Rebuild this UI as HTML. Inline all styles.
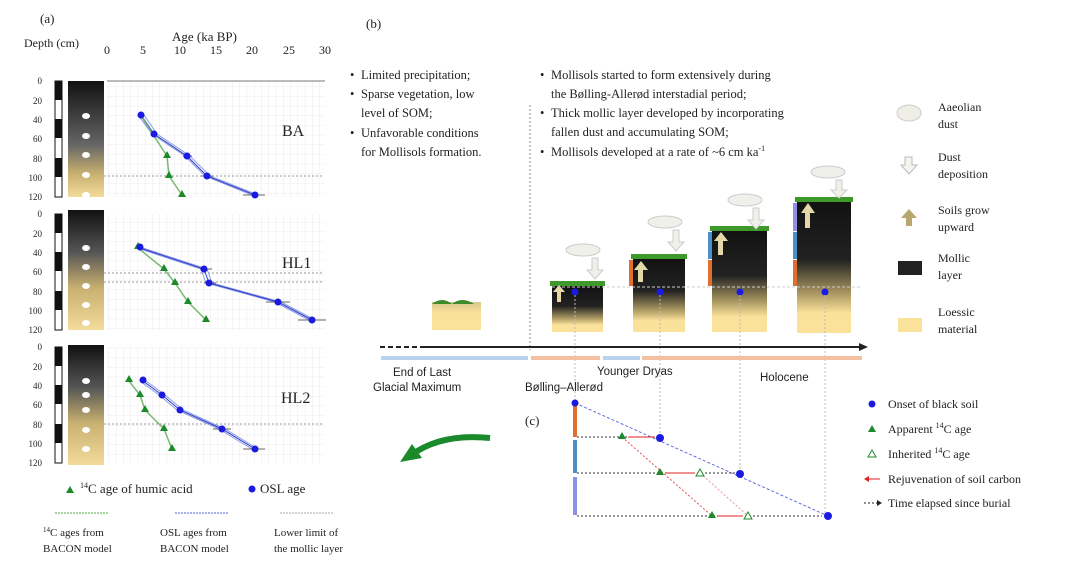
<!DOCTYPE html>
<html><head><meta charset="utf-8"><style>
html,body{margin:0;padding:0;background:#fff}
svg{display:block}
text{font-family:"Liberation Serif",serif;fill:#222}
.s{font-family:"Liberation Sans",sans-serif}
</style></head><body>
<svg width="1080" height="571" viewBox="0 0 1080 571" xmlns="http://www.w3.org/2000/svg">
<defs>
<linearGradient id="col" x1="0" y1="0" x2="0" y2="1">
<stop offset="0" stop-color="#111"/><stop offset="0.55" stop-color="#666"/><stop offset="0.8" stop-color="#c8b070"/><stop offset="1" stop-color="#f3dc9a"/></linearGradient>
<linearGradient id="colb" x1="0" y1="0" x2="0" y2="1">
<stop offset="0" stop-color="#111"/><stop offset="0.35" stop-color="#555"/><stop offset="0.65" stop-color="#c8b070"/><stop offset="1" stop-color="#f3dc9a"/></linearGradient>
<linearGradient id="blk" x1="0" y1="0" x2="0" y2="1">
<stop offset="0" stop-color="#111"/><stop offset="0.45" stop-color="#222"/><stop offset="0.7" stop-color="#a89660"/><stop offset="0.85" stop-color="#fbe29a"/><stop offset="1" stop-color="#fbe29a"/></linearGradient>
<linearGradient id="sand" x1="0" y1="0" x2="0" y2="1"><stop offset="0" stop-color="#d9c690"/><stop offset="0.4" stop-color="#fbe29a"/><stop offset="1" stop-color="#fbe29a"/></linearGradient>
<pattern id="grid" width="7.27" height="9.67" patternUnits="userSpaceOnUse"><path d="M7.27 0V9.67H0" fill="none" stroke="#e6e6e6" stroke-width="0.8"/></pattern>
</defs>

<!-- Panel a labels -->
<text x="40" y="23" font-size="13">(a)</text>
<text x="24" y="47" font-size="12">Depth (cm)</text>
<text x="172" y="41" font-size="13">Age (ka BP)</text>
<g font-size="12" text-anchor="middle">
<text x="107" y="54">0</text><text x="143" y="54">5</text><text x="180" y="54">10</text><text x="216" y="54">15</text><text x="252" y="54">20</text><text x="289" y="54">25</text><text x="325" y="54">30</text></g>

<!-- three panels -->
<g id="p1">
<rect x="107" y="81" width="218" height="116" fill="url(#grid)"/>
<line x1="107" y1="81" x2="325" y2="81" stroke="#777"/>
<rect x="55" y="81" width="7" height="116" fill="#fff" stroke="#111"/>
<rect x="55" y="81" width="7" height="19" fill="#111"/><rect x="55" y="119" width="7" height="19" fill="#111"/><rect x="55" y="158" width="7" height="19" fill="#111"/>
<rect x="68" y="81" width="36" height="116" fill="url(#col)"/>
<g fill="#fff"><ellipse cx="86" cy="116" rx="4" ry="3"/><ellipse cx="86" cy="136" rx="4" ry="3"/><ellipse cx="86" cy="155" rx="4" ry="3"/><ellipse cx="86" cy="175" rx="4" ry="3"/><ellipse cx="86" cy="195" rx="4" ry="3"/></g>
<g font-size="9" fill="#555" text-anchor="end"><text x="42" y="84">0</text><text x="42" y="104">20</text><text x="42" y="123">40</text><text x="42" y="142">60</text><text x="42" y="162">80</text><text x="42" y="181">100</text><text x="42" y="200">120</text></g>
<line x1="104" y1="176" x2="322" y2="176" stroke="#999" stroke-dasharray="2,2"/>
<text x="282" y="136" font-size="16">BA</text>
<polyline points="138,115 152,134 185,156 205,176 252,195" fill="none" stroke="#8a9ae0" stroke-width="1"/>
<polyline points="144,115 157,134 190,156 210,176 258,195" fill="none" stroke="#8a9ae0" stroke-width="1"/>
<polyline points="141,115 154,134 187,156 207,176 255,195" fill="none" stroke="#2a3ad0" stroke-width="1"/>
<polyline points="141,116 167,156 169,176 182,195" fill="none" stroke="#7ab870" stroke-width="1.5"/>
<g stroke="#666"><line x1="243" y1="195" x2="265" y2="195"/><line x1="201" y1="176" x2="213" y2="176"/><line x1="183" y1="156" x2="192" y2="156"/></g>
<g fill="#1c8a2a"><path d="M167 151l4 7h-8z"/><path d="M169 171l4 7h-8z"/><path d="M182 190l4 7h-8z"/></g>
<g fill="#1a1ae0"><circle cx="141" cy="115" r="3.5"/><circle cx="154" cy="134" r="3.5"/><circle cx="187" cy="156" r="3.5"/><circle cx="207" cy="176" r="3.5"/><circle cx="255" cy="195" r="3.5"/></g>
</g>

<g id="p2">
<rect x="107" y="214" width="218" height="116" fill="url(#grid)"/>
<rect x="55" y="214" width="7" height="116" fill="#fff" stroke="#111"/>
<rect x="55" y="214" width="7" height="19" fill="#111"/><rect x="55" y="252" width="7" height="19" fill="#111"/><rect x="55" y="291" width="7" height="19" fill="#111"/>
<rect x="68" y="210" width="36" height="120" fill="url(#colb)"/>
<g fill="#fff"><ellipse cx="86" cy="248" rx="4" ry="3"/><ellipse cx="86" cy="267" rx="4" ry="3"/><ellipse cx="86" cy="286" rx="4" ry="3"/><ellipse cx="86" cy="305" rx="4" ry="3"/><ellipse cx="86" cy="323" rx="4" ry="3"/></g>
<g font-size="9" fill="#555" text-anchor="end"><text x="42" y="217">0</text><text x="42" y="237">20</text><text x="42" y="256">40</text><text x="42" y="275">60</text><text x="42" y="295">80</text><text x="42" y="314">100</text><text x="42" y="333">120</text></g>
<line x1="104" y1="273" x2="322" y2="273" stroke="#999" stroke-dasharray="2,2"/>
<line x1="104" y1="282" x2="322" y2="282" stroke="#999" stroke-dasharray="2,2"/>
<text x="282" y="268" font-size="16">HL1</text>
<polyline points="137,248 201,269 206,283 275,302 309,320" fill="none" stroke="#8a9ae0"/>
<polyline points="143,248 207,269 212,283 281,302 315,320" fill="none" stroke="#8a9ae0"/>
<polyline points="140,248 204,269 209,283 278,302 312,320" fill="none" stroke="#2a3ad0"/>
<polyline points="138,248 164,269 175,283 188,302 206,320" fill="none" stroke="#7ab870" stroke-width="1.5"/>
<g stroke="#666"><line x1="298" y1="320" x2="326" y2="320"/><line x1="266" y1="302" x2="290" y2="302"/><line x1="200" y1="269" x2="212" y2="269"/><line x1="204" y1="283" x2="216" y2="283"/></g>
<g fill="#1c8a2a"><path d="M138 242l4 7h-8z"/><path d="M164 264l4 7h-8z"/><path d="M175 278l4 7h-8z"/><path d="M188 297l4 7h-8z"/><path d="M206 315l4 7h-8z"/></g>
<g fill="#1a1ae0"><circle cx="140" cy="247" r="3.5"/><circle cx="204" cy="269" r="3.5"/><circle cx="209" cy="283" r="3.5"/><circle cx="278" cy="302" r="3.5"/><circle cx="312" cy="320" r="3.5"/></g>
</g>

<g id="p3">
<rect x="107" y="347" width="218" height="116" fill="url(#grid)"/>
<rect x="55" y="347" width="7" height="116" fill="#fff" stroke="#111"/>
<rect x="55" y="347" width="7" height="19" fill="#111"/><rect x="55" y="385" width="7" height="19" fill="#111"/><rect x="55" y="424" width="7" height="19" fill="#111"/>
<rect x="68" y="345" width="36" height="120" fill="url(#colb)"/>
<g fill="#fff"><ellipse cx="86" cy="381" rx="4" ry="3"/><ellipse cx="86" cy="395" rx="4" ry="3"/><ellipse cx="86" cy="410" rx="4" ry="3"/><ellipse cx="86" cy="430" rx="4" ry="3"/><ellipse cx="86" cy="449" rx="4" ry="3"/></g>
<g font-size="9" fill="#555" text-anchor="end"><text x="42" y="350">0</text><text x="42" y="370">20</text><text x="42" y="389">40</text><text x="42" y="408">60</text><text x="42" y="428">80</text><text x="42" y="447">100</text><text x="42" y="466">120</text></g>
<line x1="104" y1="424" x2="322" y2="424" stroke="#999" stroke-dasharray="2,2"/>
<text x="281" y="403" font-size="16">HL2</text>
<polyline points="140,381 159,395 177,410 219,429 252,449" fill="none" stroke="#8a9ae0"/>
<polyline points="146,381 165,395 183,410 225,429 258,449" fill="none" stroke="#8a9ae0"/>
<polyline points="143,381 162,395 180,410 222,429 255,449" fill="none" stroke="#2a3ad0"/>
<polyline points="129,381 140,395 145,410 164,429 172,449" fill="none" stroke="#7ab870" stroke-width="1.5"/>
<g stroke="#666"><line x1="243" y1="449" x2="265" y2="449"/><line x1="213" y1="429" x2="231" y2="429"/></g>
<g fill="#1c8a2a"><path d="M129 375l4 7h-8z"/><path d="M140 390l4 7h-8z"/><path d="M145 405l4 7h-8z"/><path d="M164 424l4 7h-8z"/><path d="M172 444l4 7h-8z"/></g>
<g fill="#1a1ae0"><circle cx="143" cy="380" r="3.5"/><circle cx="162" cy="395" r="3.5"/><circle cx="180" cy="410" r="3.5"/><circle cx="222" cy="429" r="3.5"/><circle cx="255" cy="449" r="3.5"/></g>
</g>

<!-- legend a -->
<path d="M70 486l4 7h-8z" fill="#1c8a2a"/>
<text x="80" y="493" font-size="13"><tspan font-size="8" dy="-5">14</tspan><tspan dy="5">C age of humic acid</tspan></text>
<circle cx="252" cy="489" r="3.5" fill="#1a1ae0"/>
<text x="260" y="493" font-size="13">OSL age</text>
<line x1="55" y1="513" x2="108" y2="513" stroke="#8cc880" stroke-width="1.5" stroke-dasharray="2,1"/>
<line x1="175" y1="513" x2="228" y2="513" stroke="#8a9ae0" stroke-width="1.5" stroke-dasharray="2,1"/>
<line x1="280" y1="513" x2="333" y2="513" stroke="#aaa" stroke-dasharray="2,1"/>
<g font-size="11"><text x="43" y="536"><tspan font-size="7" dy="-4">14</tspan><tspan dy="4">C ages from</tspan></text><text x="43" y="552">BACON model</text>
<text x="160" y="536">OSL ages from</text><text x="160" y="552">BACON model</text>
<text x="274" y="536">Lower limit of</text><text x="274" y="552">the mollic layer</text></g>

<!-- panel b -->
<text x="366" y="28" font-size="13">(b)</text>
<g font-size="12.5">
<text x="350" y="79">•</text><text x="361" y="79">Limited precipitation;</text>
<text x="350" y="98">•</text><text x="361" y="98">Sparse vegetation, low</text>
<text x="361" y="117">level of SOM;</text>
<text x="350" y="137">•</text><text x="361" y="137">Unfavorable conditions</text>
<text x="361" y="156">for Mollisols formation.</text>
<text x="540" y="79">•</text><text x="551" y="79">Mollisols started to form extensively during</text>
<text x="551" y="98">the Bølling-Allerød interstadial period;</text>
<text x="540" y="117">•</text><text x="551" y="117">Thick mollic layer developed by incorporating</text>
<text x="551" y="136">fallen dust and accumulating SOM;</text>
<text x="540" y="156">•</text><text x="551" y="156">Mollisols developed at a rate of ~6 cm ka<tspan font-size="8" dy="-5">-1</tspan></text>
</g>
<line x1="530" y1="105" x2="530" y2="350" stroke="#888" stroke-dasharray="2,2"/>

<!-- soil blocks -->
<rect x="432" y="302" width="49" height="28" fill="url(#sand)"/>
<path d="M432 304q10-8 20 0q10-8 22 0z" fill="#3d8a2a"/>
<g>
<rect x="552" y="285" width="51" height="47" fill="url(#blk)"/>
<rect x="633" y="257" width="52" height="75" fill="url(#blk)"/>
<rect x="712" y="229" width="55" height="103" fill="url(#blk)"/>
<rect x="797" y="200" width="54" height="133" fill="url(#blk)"/>
<g fill="#3d9a2a"><rect x="550" y="281" width="55" height="5"/><rect x="631" y="254" width="56" height="5"/><rect x="710" y="226" width="59" height="5"/><rect x="795" y="197" width="58" height="5"/></g>
<rect x="629" y="260" width="4" height="26" fill="#e07030"/>
<rect x="708" y="232" width="4" height="27" fill="#4a90c8"/><rect x="708" y="260" width="4" height="26" fill="#e07030"/>
<rect x="793" y="203" width="4" height="28" fill="#9090e8"/><rect x="793" y="232" width="4" height="27" fill="#4a90c8"/><rect x="793" y="260" width="4" height="26" fill="#e07030"/>
<g fill="#e5d8a8"><path d="M557 302h4v-10h4l-6-7-6 7h4z"/><path d="M638 282h5v-12h5l-7-9-7 9h4z"/><path d="M718 255h5v-14h5l-7-9-7 9h4z"/><path d="M805 228h5v-15h5l-7-10-7 10h4z"/></g>
<line x1="552" y1="287" x2="860" y2="287" stroke="#ccc" stroke-dasharray="3,2"/>
<g fill="#1a1ae0"><circle cx="575" cy="292" r="3.5"/><circle cx="660" cy="292" r="3.5"/><circle cx="740" cy="292" r="3.5"/><circle cx="825" cy="292" r="3.5"/></g>
<g fill="#f0f0ea" stroke="#ccc"><ellipse cx="583" cy="250" rx="17" ry="6"/><ellipse cx="665" cy="222" rx="17" ry="6"/><ellipse cx="745" cy="200" rx="17" ry="6"/><ellipse cx="828" cy="172" rx="17" ry="6"/>
<path d="M592 258h6v12h5l-8 9-8-9h5z"/><path d="M673 230h6v12h5l-8 9-8-9h5z"/><path d="M753 208h6v12h5l-8 9-8-9h5z"/><path d="M836 180h6v10h5l-8 8-8-8h5z"/></g>
</g>
<g stroke="#bbb" stroke-dasharray="2,2"><line x1="575" y1="295" x2="575" y2="402"/><line x1="660" y1="295" x2="660" y2="436"/><line x1="740" y1="295" x2="740" y2="472"/><line x1="825" y1="295" x2="825" y2="514"/></g>

<!-- timeline -->
<line x1="380" y1="347" x2="420" y2="347" stroke="#222" stroke-width="2" stroke-dasharray="5,3"/>
<line x1="420" y1="347" x2="860" y2="347" stroke="#222" stroke-width="2"/>
<path d="M868 347l-9-4v8z" fill="#222"/>
<rect x="381" y="356" width="147" height="4" fill="#b8d4ec"/>
<rect x="531" y="356" width="69" height="4" fill="#f5c0a0"/>
<rect x="603" y="356" width="37" height="4" fill="#b8d4ec"/>
<rect x="642" y="356" width="220" height="4" fill="#f5c0a0"/>
<g class="s" font-size="11.5" fill="#333">
<text x="393" y="376" class="s">End of Last</text>
<text x="373" y="391" class="s">Glacial Maximum</text>
<text x="597" y="375" class="s">Younger Dryas</text>
<text x="525" y="391" class="s">Bølling–Allerød</text>
<text x="760" y="381" class="s">Holocene</text></g>

<!-- legend b -->
<ellipse cx="909" cy="113" rx="12" ry="8" fill="#eeeee6" stroke="#ccc"/>
<text x="938" y="111" font-size="12">Aaeolian</text><text x="938" y="128" font-size="12">dust</text>
<path d="M905 157h7v8h5l-8 9-8-9h4z" fill="#f4f4f0" stroke="#bbb"/>
<text x="938" y="161" font-size="12">Dust</text><text x="938" y="178" font-size="12">deposition</text>
<path d="M906 226h6v-8h5l-8-9-8 9h5z" fill="#b8a870"/>
<text x="938" y="214" font-size="12">Soils grow</text><text x="938" y="231" font-size="12">upward</text>
<rect x="898" y="261" width="24" height="14" fill="#222"/>
<text x="938" y="262" font-size="12">Mollic</text><text x="938" y="279" font-size="12">layer</text>
<rect x="898" y="318" width="24" height="14" fill="#fbe29a"/>
<text x="938" y="316" font-size="12">Loessic</text><text x="938" y="333" font-size="12">material</text>

<!-- panel c -->
<text x="525" y="425" font-size="13">(c)</text>
<path d="M490 438q-50 -5-80 18" fill="none" stroke="#1a8a2a" stroke-width="6"/>
<path d="M400 462l22-4-10-14z" fill="#1a8a2a"/>
<rect x="573" y="405" width="4" height="32" fill="#e07030"/>
<rect x="573" y="440" width="4" height="33" fill="#4a90c8"/>
<rect x="573" y="477" width="4" height="38" fill="#9090e8"/>
<line x1="575" y1="403" x2="828" y2="516" stroke="#6070d8" stroke-dasharray="3,2"/>
<line x1="622" y1="437" x2="712" y2="516" stroke="#e05050" stroke-dasharray="2,2"/>
<line x1="700" y1="473" x2="748" y2="516" stroke="#e05050" stroke-dasharray="2,2" opacity="0.6"/>
<g stroke="#333" stroke-dasharray="2,2"><line x1="577" y1="437" x2="655" y2="437"/><line x1="577" y1="473" x2="735" y2="473"/><line x1="577" y1="516" x2="822" y2="516"/></g>
<g stroke="#e02020"><line x1="655" y1="437" x2="628" y2="437"/><line x1="695" y1="473" x2="666" y2="473"/><line x1="743" y1="516" x2="718" y2="516"/></g>
<circle cx="575" cy="403" r="3.5" fill="#1a1ae0"/>
<g fill="#1a1ae0"><circle cx="660" cy="438" r="4"/><circle cx="740" cy="474" r="4"/><circle cx="828" cy="516" r="4"/></g>
<g fill="#1c8a2a"><path d="M622 432l4 7h-8z"/><path d="M660 468l4 7h-8z"/><path d="M712 511l4 7h-8z"/></g>
<g fill="#fff" stroke="#1c8a2a"><path d="M700 469l4 7h-8z"/><path d="M748 512l4 7h-8z"/></g>

<!-- legend c -->
<circle cx="872" cy="404" r="3.5" fill="#1a1ae0"/><text x="888" y="408" font-size="12">Onset of black soil</text>
<path d="M872 425l4 7h-8z" fill="#1c8a2a"/><text x="888" y="433" font-size="12">Apparent <tspan font-size="8" dy="-5">14</tspan><tspan dy="5">C age</tspan></text>
<path d="M872 450l4 7h-8z" fill="#fff" stroke="#1c8a2a"/><text x="888" y="458" font-size="12">Inherited <tspan font-size="8" dy="-5">14</tspan><tspan dy="5">C age</tspan></text>
<line x1="865" y1="479" x2="880" y2="479" stroke="#e02020"/><path d="M864 479l5-3v6z" fill="#e02020"/>
<text x="888" y="483" font-size="12">Rejuvenation of soil carbon</text>
<line x1="864" y1="503" x2="878" y2="503" stroke="#222" stroke-dasharray="2,2"/><path d="M882 503l-5-3v6z" fill="#222"/>
<text x="888" y="507" font-size="12">Time elapsed since burial</text>
</svg>
</body></html>
